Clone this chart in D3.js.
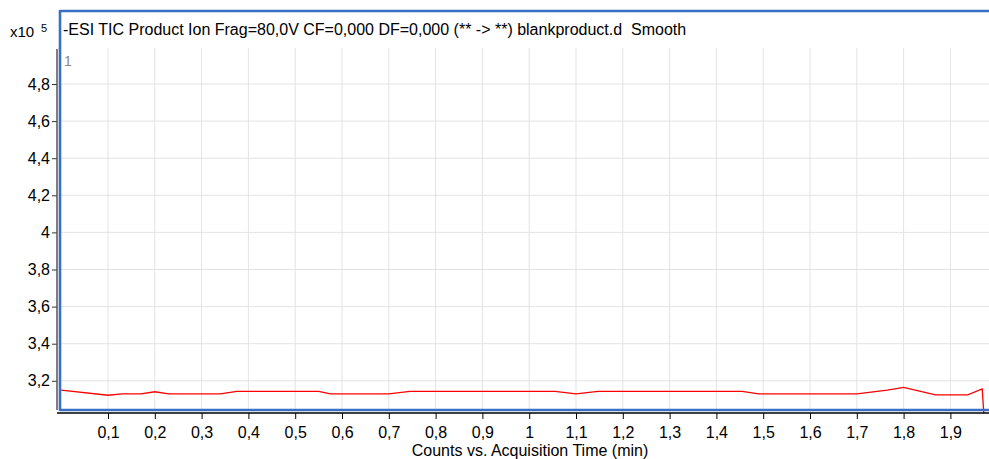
<!DOCTYPE html>
<html lang="en">
<head>
    <meta charset="UTF-8">
    <title>TIC blank product</title>
    <script src="https://d3js.org/d3.v7.min.js"></script>
    <style>
        body { margin: 0; background: #fff; }
        text { font-family: "Liberation Sans", Arial, sans-serif; }
    </style>
</head>
<body>
    <div class="canvas"></div>
    <script>
        const width = 989;
        const height = 459;

        // data (time in min, counts in x10^5)
        const times  = [0, 0.1, 0.13, 0.17, 0.2, 0.23, 0.34, 0.375, 0.55, 0.575, 0.70, 0.745,
                        1.055, 1.1, 1.147, 1.455, 1.49, 1.70, 1.765, 1.80, 1.868, 1.937, 1.968, 1.972];
        const counts = [3.15, 3.122, 3.13, 3.13, 3.141, 3.13, 3.13, 3.143, 3.143, 3.13, 3.13, 3.143,
                        3.143, 3.13, 3.143, 3.143, 3.13, 3.13, 3.15, 3.165, 3.124, 3.124, 3.156, 3.0];
        const xTicks = d3.range(1, 20).map(i => i / 10);
        const yTicks = [3.2, 3.4, 3.6, 3.8, 4.0, 4.2, 4.4, 4.6, 4.8];
        const title = '-ESI TIC Product Ion Frag=80,0V CF=0,000 DF=0,000 (** -> **) blankproduct.d  Smooth';

        const plotTop = 48, plotBottom = 410, plotLeft = 61, plotRight = 989;

        const svg = d3.select('.canvas')
            .append('svg')
            .attr('width', width)
            .attr('height', height);

        const x = d3.scaleLinear()
            .domain([0, 1.98])
            .range([61.2, 61.2 + 1.98 * 468]);

        const y = d3.scaleLinear()
            .domain([3.2, 4.8])
            .range([380.8, 84]);

        const comma = v => d3.format('~g')(v).replace('.', ',');

        // grid
        const grid = svg.append('g');
        grid.selectAll('.vg').data(xTicks).enter().append('line')
            .attr('x1', d => x(d)).attr('x2', d => x(d))
            .attr('y1', plotTop).attr('y2', plotBottom)
            .attr('stroke', '#e3e3e3').attr('stroke-width', 1);
        grid.selectAll('.hg').data(yTicks).enter().append('line')
            .attr('x1', plotLeft).attr('x2', plotRight)
            .attr('y1', d => y(d)).attr('y2', d => y(d))
            .attr('stroke', '#e3e3e3').attr('stroke-width', 1);

        // trace, clipped to the plot area
        svg.append('clipPath').attr('id', 'clip')
            .append('rect')
            .attr('x', plotLeft).attr('y', plotTop)
            .attr('width', plotRight - plotLeft).attr('height', plotBottom - plotTop + 3);

        const line = d3.line()
            .x((d, i) => x(times[i]))
            .y(d => y(d));

        svg.append('path')
            .datum(counts)
            .attr('clip-path', 'url(#clip)')
            .attr('fill', 'none')
            .attr('stroke', '#ff0000')
            .attr('stroke-width', 1.3)
            .attr('d', line);

        // blue frame
        const frame = svg.append('g').attr('fill', 'none').attr('stroke', '#3a6fc8').attr('stroke-width', 2.6);
        frame.append('line').attr('x1', 60).attr('x2', width).attr('y1', 11).attr('y2', 11);
        frame.append('line').attr('x1', 60).attr('x2', width).attr('y1', 410).attr('y2', 410);
        frame.append('line').attr('x1', 60).attr('x2', 60).attr('y1', 10).attr('y2', 411);

        // y axis
        const yAxisG = svg.append('g').attr('transform', 'translate(57,0)');
        yAxisG.call(d3.axisLeft(y).tickValues(yTicks).tickSize(5).tickPadding(2).tickFormat(comma));
        yAxisG.select('.domain').remove();
        yAxisG.append('line')
            .attr('x1', 0).attr('x2', 0).attr('y1', 49).attr('y2', 410)
            .attr('stroke', '#555').attr('stroke-width', 1.5);
        yAxisG.selectAll('.tick line').attr('stroke', '#333');
        yAxisG.selectAll('text')
            .attr('fill', '#000')
            .style('font-size', '16px');

        // x axis
        const xAxisG = svg.append('g').attr('transform', 'translate(0,413)');
        xAxisG.call(d3.axisBottom(x).tickValues(xTicks).tickSize(6).tickPadding(8).tickFormat(comma));
        xAxisG.select('.domain').remove();
        xAxisG.append('line')
            .attr('x1', 57).attr('x2', width).attr('y1', 0).attr('y2', 0)
            .attr('stroke', '#000').attr('stroke-width', 1.5);
        xAxisG.selectAll('text')
            .attr('fill', '#000')
            .style('font-size', '16px');

        // texts
        svg.append('text')
            .attr('x', 10).attr('y', 37)
            .style('font-size', '15px')
            .text('x10');
        svg.append('text')
            .attr('x', 41).attr('y', 32)
            .style('font-size', '11px')
            .text('5');

        svg.append('text')
            .attr('x', 63).attr('y', 35)
            .style('font-size', '16px')
            .style('white-space', 'pre')
            .text(title);

        svg.append('text')
            .attr('x', 64).attr('y', 66)
            .attr('fill', '#888')
            .style('font-size', '14px')
            .text('1');

        svg.append('text')
            .attr('x', 530).attr('y', 456)
            .attr('text-anchor', 'middle')
            .style('font-size', '16px')
            .text('Counts vs. Acquisition Time (min)');
    </script>
</body>
</html>
